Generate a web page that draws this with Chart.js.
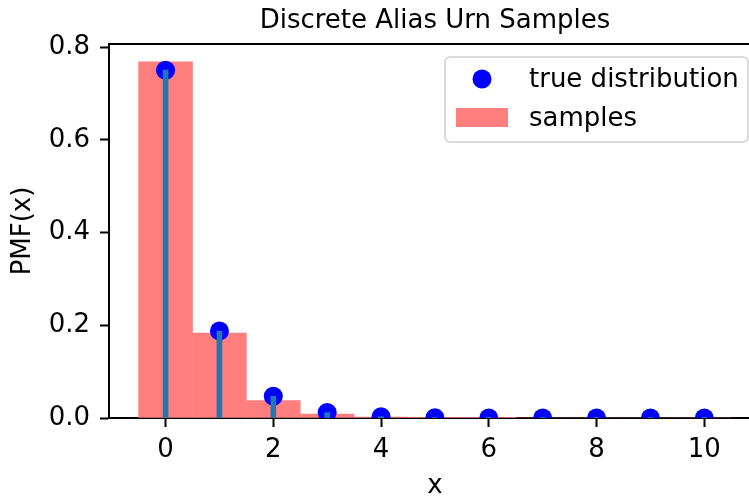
<!DOCTYPE html>
<html><head><meta charset="utf-8">
<script src="https://cdn.jsdelivr.net/npm/chart.js@4/dist/chart.umd.min.js"></script>
<style>
html,body{margin:0;padding:0;overflow:hidden;background:#fff;}
#wrap{position:relative;width:749px;height:499px;}
</style></head><body>
<div id="wrap"><canvas id="c" width="749" height="499"></canvas></div>
<script>
const xValues = [0, 1, 2, 3, 4, 5, 6, 7, 8, 9, 10];
const truePmf = [0.75, 0.1875, 0.0469, 0.0117, 0.0029, 0.00073, 0.00018, 0.000046, 0.000011, 0.0000029, 0.0000007];
const samplePmf = [0.768, 0.183, 0.0375, 0.0085, 0.0022, 0.0005, 0.0001, 0, 0, 0, 0];
const xTicks = [0, 2, 4, 6, 8, 10];
const yTicks = [0, 0.2, 0.4, 0.6, 0.8];
const titleText = 'Discrete Alias Urn Samples';
const xLabel = 'x';
const yLabel = 'PMF(x)';
const trueLabel = 'true distribution';
const sampleLabel = 'samples';

const FONT = 'DejaVu Sans';
const FS = 26;
const HIDDEN_RIGHT = 12; // the axes continue past the right edge of the picture
const toXY = (arr) => xValues.map((x, i) => ({x: x, y: arr[i]}));

const extendRight = {
  id: 'extendRight',
  afterLayout(chart) {
    chart.scales.x.right += HIDDEN_RIGHT;
    if (chart.titleBlock) chart.titleBlock.right += HIDDEN_RIGHT;
  }
};

const topSpine = {
  id: 'topSpine',
  afterDraw(chart) {
    const {ctx, chartArea: a} = chart;
    ctx.save();
    ctx.strokeStyle = '#000';
    ctx.lineWidth = 2;
    ctx.beginPath();
    ctx.moveTo(a.left - 1, a.top);
    ctx.lineTo(a.right + HIDDEN_RIGHT, a.top);
    ctx.stroke();
    ctx.restore();
  }
};

const mplLegend = {
  id: 'mplLegend',
  afterDraw(chart) {
    const {ctx, chartArea: a} = chart;
    const w = 303, h = 85;
    const x0 = a.right + HIDDEN_RIGHT - 13 - w, y0 = a.top + 13;
    const r = 5;
    ctx.save();
    ctx.beginPath();
    ctx.moveTo(x0 + r, y0);
    ctx.lineTo(x0 + w - r, y0);
    ctx.arcTo(x0 + w, y0, x0 + w, y0 + r, r);
    ctx.lineTo(x0 + w, y0 + h - r);
    ctx.arcTo(x0 + w, y0 + h, x0 + w - r, y0 + h, r);
    ctx.lineTo(x0 + r, y0 + h);
    ctx.arcTo(x0, y0 + h, x0, y0 + h - r, r);
    ctx.lineTo(x0, y0 + r);
    ctx.arcTo(x0, y0, x0 + r, y0, r);
    ctx.closePath();
    ctx.fillStyle = 'rgba(255,255,255,0.8)';
    ctx.fill();
    ctx.strokeStyle = '#d0d0d0';
    ctx.lineWidth = 1.5;
    ctx.stroke();

    const ds = chart.data.datasets;
    const markerDs = ds.find(d => d.label === trueLabel);
    const sampleDs = ds.find(d => d.label === sampleLabel);
    ctx.fillStyle = markerDs.backgroundColor;
    ctx.beginPath();
    ctx.arc(x0 + 37, y0 + 22, 9.5, 0, Math.PI * 2);
    ctx.fill();
    ctx.fillStyle = sampleDs.backgroundColor;
    ctx.fillRect(x0 + 11, y0 + 51, 52, 19);

    ctx.fillStyle = '#000';
    ctx.font = FS + 'px "' + FONT + '"';
    ctx.textBaseline = 'middle';
    ctx.textAlign = 'left';
    ctx.fillText(markerDs.label, x0 + 84, y0 + 23);
    ctx.fillText(sampleDs.label, x0 + 84, y0 + 62);
    ctx.restore();
  }
};

new Chart(document.getElementById('c'), {
  data: {
    datasets: [
      { type: 'bar', label: 'stems', data: toXY(truePmf), backgroundColor: '#1f77b4', barThickness: 5, grouped: false, order: 0, clip: 0 },
      { type: 'scatter', label: trueLabel, data: toXY(truePmf), backgroundColor: '#0000ff', borderWidth: 0, pointRadius: 9.5, pointHoverRadius: 9.5, order: 1, clip: 0 },
      { type: 'bar', label: sampleLabel, data: toXY(samplePmf), backgroundColor: '#ff7f7f', barPercentage: 1, categoryPercentage: 1, grouped: false, order: 2, clip: 0 }
    ]
  },
  options: {
    responsive: false,
    devicePixelRatio: 1,
    animation: false,
    events: [],
    layout: {padding: 0, autoPadding: false},
    plugins: {
      legend: {display: false},
      tooltip: {enabled: false},
      title: { display: true, text: titleText, color: '#000', font: {family: FONT, size: FS, weight: 'normal', lineHeight: 1.2}, padding: {top: 5.5, bottom: 7.3}, fullSize: false }
    },
    scales: {
      x: {
        type: 'linear', position: 'bottom', min: -1.05, max: 10.83, offset: false, z: 1,
        afterBuildTicks: (s) => { s.ticks = xTicks.map(v => ({value: v})); },
        afterFit: (s) => { s.height = 81; s.paddingLeft = 0; s.paddingRight = 0; },
        grid: {display: true, offset: false, drawOnChartArea: false, drawTicks: true, tickLength: 9, tickColor: '#000', tickWidth: 2},
        border: {display: true, color: '#000', width: 2},
        ticks: {color: '#000', font: {family: FONT, size: FS}, padding: 8, maxRotation: 0, autoSkip: false, callback: (v) => String(v)},
        title: {display: true, text: xLabel, color: '#000', font: {family: FONT, size: FS, lineHeight: 1}, padding: {top: 0, bottom: 0}}
      },
      y: {
        type: 'linear', position: 'left', min: 0, max: 0.8065, z: 1,
        afterBuildTicks: (s) => { s.ticks = yTicks.map(v => ({value: v})); },
        afterFit: (s) => { s.width = 109; s.paddingTop = 0; s.paddingBottom = 0; },
        grid: {display: true, drawOnChartArea: false, drawTicks: true, tickLength: 9, tickColor: '#000', tickWidth: 2},
        border: {display: true, color: '#000', width: 2},
        ticks: {color: '#000', font: {family: FONT, size: FS}, padding: 10, autoSkip: false, callback: (v) => v.toFixed(1)},
        title: {display: true, text: yLabel, color: '#000', font: {family: FONT, size: FS}, padding: {top: 8, bottom: 0}}
      }
    }
  },
  plugins: [extendRight, topSpine, mplLegend]
});
</script>
</body></html>
